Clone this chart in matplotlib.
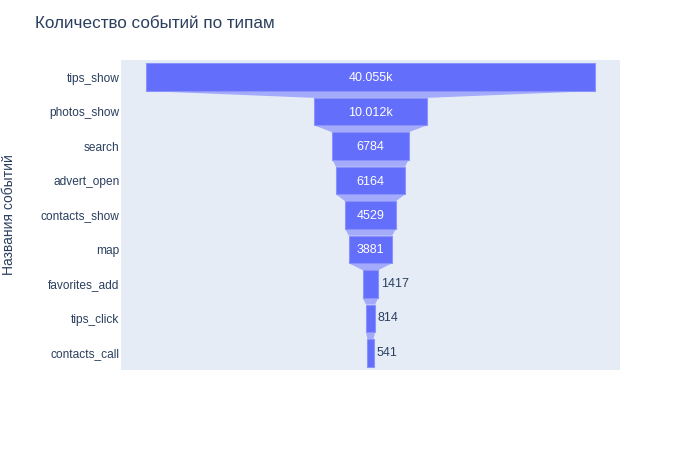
import matplotlib.pyplot as plt
from matplotlib.patches import Polygon

events = ['tips_show', 'photos_show', 'search', 'advert_open', 'contacts_show',
          'map', 'favorites_add', 'tips_click', 'contacts_call']
counts = [40055, 10012, 6784, 6164, 4529, 3881, 1417, 814, 541]

plt.rcParams['font.family'] = ['Liberation Sans', 'DejaVu Sans']

bar_color = '#636efa'
conn_color = '#a5abfb'
text_color = '#2a3f5f'


def fmt(v):
    if v >= 10000:
        return f"{v / 1000:.3f}k"
    return str(v)


fig = plt.figure(figsize=(7, 4.5), dpi=100)
ax = fig.add_axes([121 / 700, 80 / 450, 499 / 700, 310 / 450])
ax.set_facecolor('#e5ecf6')

h = 0.8
ys = list(range(len(events)))
ax.barh(ys, counts, left=[-c / 2 for c in counts], height=h,
        color=bar_color, edgecolor='#8a92fb', linewidth=0.8, zorder=3)

# connectors between the bars
for i in range(len(counts) - 1):
    a, b = counts[i] / 2, counts[i + 1] / 2
    y0, y1 = ys[i] + h / 2, ys[i + 1] - h / 2
    ax.add_patch(Polygon([(-a, y0), (a, y0), (b, y1), (-b, y1)],
                         closed=True, facecolor=conn_color, edgecolor='none', zorder=2))

# value labels
for y, c in zip(ys, counts):
    if c > 2000:
        ax.text(0, y + 0.03, fmt(c), ha='center', va='center', color='white', fontsize=9, zorder=4)
    else:
        ax.annotate(fmt(c), (c / 2, y), xytext=(2, 0), textcoords='offset points',
                    ha='left', va='center', color=text_color, fontsize=9, zorder=4)

W = counts[0] * 499 / 449
ax.set_xlim(-W / 2, W / 2)
ax.set_ylim(len(events) - 0.5, -0.5)
ax.set_yticks(ys)
ax.set_yticklabels(events, color=text_color, fontsize=8.6)
ax.tick_params(axis='y', length=0, pad=1)
ax.set_xticks([])
for s in ax.spines.values():
    s.set_visible(False)

fig.text(35 / 700, 1 - 24 / 450, 'Количество событий по типам', fontsize=12.3,
         color=text_color, ha='left', va='center')
fig.text(9 / 700, 1 - 215 / 450, 'Названия событий', fontsize=10,
         rotation=90, color=text_color, ha='center', va='center')

fig.savefig('out.png', dpi=100)
